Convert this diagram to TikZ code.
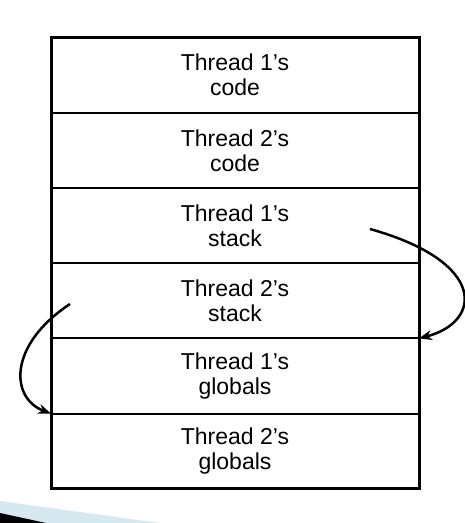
\documentclass[tikz,border=0pt]{standalone}
\usepackage{fontspec}
\setmainfont{Liberation Sans}
\usetikzlibrary{positioning,arrows.meta}
\definecolor{slideblue}{RGB}{214,233,240}
\tikzset{
    seg/.style={draw, line width=2pt, outer sep=0pt, minimum width=368pt, minimum height=75.2pt,
        align=center, font=\fontsize{23}{25}\selectfont},
    hop/.style={line width=2.5pt, -{Stealth[length=13pt,width=10pt]}}
}
\begin{document}
\begin{tikzpicture}[x=1pt,y=-1pt]
        \useasboundingbox (0,0) rectangle (464,523);
        % slide decoration
        \fill[slideblue] (0,501) -- (160,523) -- (0,523) -- cycle;
        \fill[black] (0,513) -- (46,523) -- (0,523) -- cycle;
        % memory segments
        \node[seg] (code1) at (235,75.2) {Thread 1's\\code};
        \node[seg, below=0pt of code1] (code2) {Thread 2's\\code};
        \node[seg, below=0pt of code2] (stack1) {Thread 1's\\stack};
        \node[seg, below=0pt of stack1] (stack2) {Thread 2's\\stack};
        \node[seg, below=0pt of stack2] (glob1) {Thread 1's\\globals};
        \node[seg, below=0pt of glob1] (glob2) {Thread 2's\\globals};
        \draw[line width=3pt] (code1.north west) rectangle (glob2.south east);
        % pointers
        \coordinate (p1) at (370,229);
        \coordinate (p2) at (70,304);
        \draw[hop] (p1) .. controls (488,262) and (482,322) .. (stack2.south east);
        \draw[hop] (p2) .. controls (8,345) and (10,398) .. (glob1.south west);
\end{tikzpicture}
\end{document}
